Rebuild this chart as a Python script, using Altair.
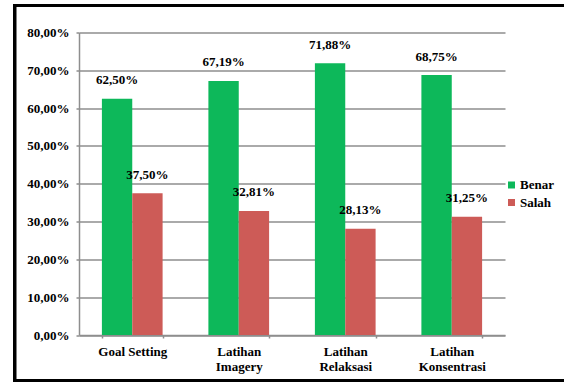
import altair as alt
import pandas as pd

categories = ["Goal Setting", "Latihan Imagery", "Latihan Relaksasi", "Latihan Konsentrasi"]
series = ["Benar", "Salah"]
benar = [62.50, 67.19, 71.88, 68.75]
salah = [37.50, 32.81, 28.13, 31.25]
y_ticks = [0, 10, 20, 30, 40, 50, 60, 70, 80]
colors = ["#0DB85A", "#CD5B57"]

rows = []
for c, b, s in zip(categories, benar, salah):
    rows.append({"cat": c, "series": "Benar", "value": b})
    rows.append({"cat": c, "series": "Salah", "value": s})
df = pd.DataFrame(rows)

FONT = "Times New Roman, Liberation Serif, serif"
GRID = "#8e8e8e"

x_enc = alt.X(
    "cat:N",
    sort=categories,
    scale=alt.Scale(paddingInner=0.43, paddingOuter=0.215),
    axis=alt.Axis(
        title=None,
        labelAngle=0,
        labelFont=FONT,
        labelFontSize=13,
        labelFontWeight="bold",
        labelColor="black",
        labelPadding=7,
        labelLineHeight=15,
        labelExpr="isString(datum.value) ? (datum.value == 'Goal Setting' ? datum.value : split(datum.value, ' ')) : ''",
        tickBand="extent",
        tickSize=3,
        tickColor=GRID,
        tickWidth=1.5,
        domainColor=GRID,
        domainWidth=1.5,
        grid=False,
    ),
)
xoff = alt.XOffset("series:N", sort=series, scale=alt.Scale(paddingInner=0, paddingOuter=0))
y_enc = alt.Y(
    "value:Q",
    scale=alt.Scale(domain=[0, 80], nice=False),
    axis=alt.Axis(
        title=None,
        values=y_ticks,
        labelExpr="replace(format(datum.value, '.2f'), '.', ',') + '%'",
        labelFont=FONT,
        labelFontSize=13,
        labelFontWeight="bold",
        labelColor="black",
        labelPadding=7,
        tickSize=3,
        tickColor=GRID,
        tickWidth=1.5,
        domainColor=GRID,
        domainWidth=1.5,
        gridColor=GRID,
        gridWidth=1.5,
    ),
)

base = alt.Chart(df).transform_calculate(
    label="replace(format(datum.value, '.2f'), '.', ',') + '%'"
)

bars = base.mark_bar().encode(
    x=x_enc,
    xOffset=xoff,
    y=y_enc,
    color=alt.Color(
        "series:N",
        sort=series,
        scale=alt.Scale(domain=series, range=colors),
        legend=alt.Legend(
            title=None,
            orient="none",
            legendX=426,
            legendY=146,
            symbolType="square",
            symbolSize=49,
            symbolStrokeWidth=0,
            labelFont=FONT,
            labelFontSize=13,
            labelFontWeight="bold",
            labelColor="black",
            labelOffset=2,
            rowPadding=3.5,
            padding=0,
        ),
    ),
)

labels = base.mark_text(
    dy=-18.5, baseline="middle", font=FONT, fontSize=13, fontWeight="bold", color="black"
).encode(x=x_enc, xOffset=xoff, y=y_enc, text="label:N")

frame_data = alt.Data(values=[{"k": 1}])
left_line = alt.Chart(frame_data).mark_rule(color="black", strokeWidth=3.5).encode(
    x=alt.value(-64.25), y=alt.value(-28.5), y2=alt.value(349.5)
)
top_line = alt.Chart(frame_data).mark_rule(color="black", strokeWidth=3).encode(
    x=alt.value(-66), x2=alt.value(486), y=alt.value(-27)
)
bottom_line = alt.Chart(frame_data).mark_rule(color="black", strokeWidth=3).encode(
    x=alt.value(-66), x2=alt.value(486), y=alt.value(348)
)

chart = (
    alt.layer(bars, labels, left_line, top_line, bottom_line)
    .properties(
        width=426,
        height=302.5,
        padding={"left": 79, "top": 32.5, "right": 59, "bottom": 47},
        autosize=alt.AutoSizeParams(type="none"),
        background="white",
    )
    .configure_view(stroke=None)
)

chart.save("out.html", embed_options={"renderer": "svg", "actions": False})
